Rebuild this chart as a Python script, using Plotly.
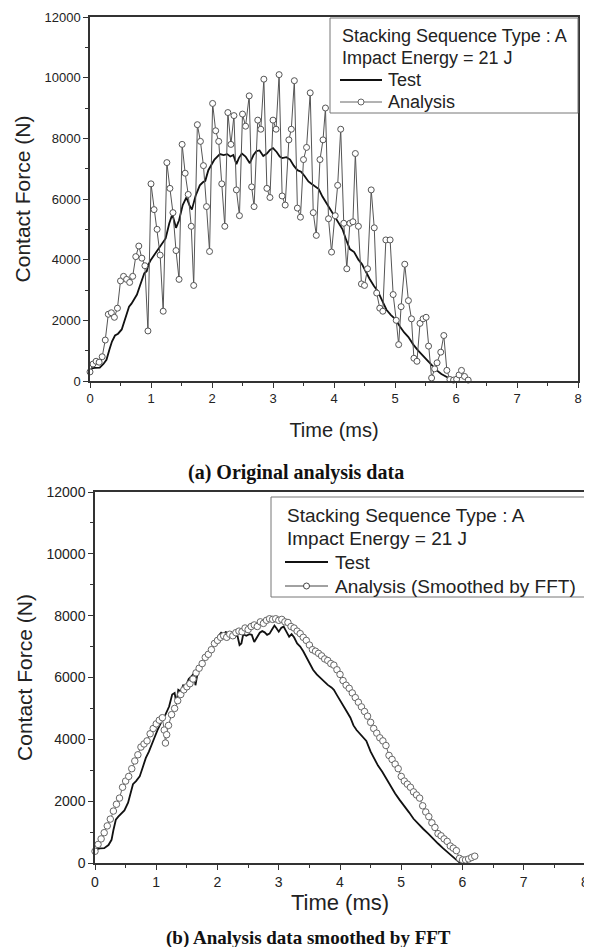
import plotly.graph_objects as go

# Page is 592x947; the HTML body adds an 8px margin, so the figure is drawn
# 8px in from the top-left and sized to fill the rest of the window.
PAGE_W, PAGE_H = 592, 947
OFF = 8
W, H = PAGE_W - OFF, PAGE_H - OFF

# ---------------- (a) Original analysis data ----------------
t_test_a = [0.00, 0.03, 0.08, 0.16, 0.22, 0.27, 0.32, 0.36, 0.41, 0.46,
            0.52, 0.56, 0.60, 0.64, 0.68, 0.73, 0.77, 0.82, 0.86, 0.89,
            0.93, 0.96, 1.00, 1.06, 1.13, 1.19, 1.24, 1.30, 1.35, 1.41,
            1.46, 1.52, 1.58, 1.63, 1.67, 1.73, 1.80, 1.85, 1.89, 1.94,
            1.98, 2.04, 2.08, 2.13, 2.19, 2.25, 2.30, 2.35, 2.40, 2.44,
            2.49, 2.55, 2.62, 2.68, 2.73, 2.78, 2.84, 2.90, 2.95, 3.00,
            3.06, 3.11, 3.15, 3.22, 3.28, 3.34, 3.40, 3.46, 3.52, 3.58,
            3.63, 3.69, 3.75, 3.81, 3.87, 3.94, 4.00, 4.07, 4.14, 4.20,
            4.26, 4.33, 4.40, 4.46, 4.52, 4.58, 4.65, 4.72, 4.79, 4.86,
            4.93, 5.00, 5.08, 5.15, 5.22, 5.30, 5.38, 5.45, 5.52, 5.60,
            5.68, 5.76, 5.85, 5.93, 5.97]
f_test_a = [250, 420, 430, 440, 560, 700, 1050, 1300, 1500, 1560,
            1700, 1950, 2250, 2450, 2550, 2700, 2850, 3150, 3400, 3550,
            3620, 3850, 4000, 4180, 4350, 4550, 4700, 5200, 5500, 5050,
            5300, 5800, 6050, 5800, 5650, 6100, 6450, 6550, 6600, 6950,
            7100, 7300, 7380, 7480, 7450, 7480, 7400, 7450, 7150, 7350,
            7500, 7400, 7180, 7450, 7580, 7600, 7420, 7500, 7620, 7680,
            7550, 7400, 7350, 7380, 7300, 7100, 6950, 6900, 6750, 6580,
            6500, 6400, 6330, 6080, 5880, 5650, 5480, 5200, 5000, 4650,
            4350, 4250, 4000, 3850, 3600, 3380, 3150, 2950, 2650, 2350,
            2180, 2050, 1800, 1600, 1450, 1200, 1000, 850, 680, 500,
            360, 230, 130, 30, 0]

t_ana_a = [0.00, 0.05, 0.10, 0.15, 0.20, 0.25, 0.30, 0.35, 0.40, 0.45,
           0.50, 0.55, 0.60, 0.65, 0.70, 0.75, 0.80, 0.85, 0.90, 0.95,
           1.00, 1.05, 1.10, 1.15, 1.20, 1.26, 1.31, 1.36, 1.41, 1.46,
           1.51, 1.56, 1.61, 1.66, 1.70, 1.76, 1.81, 1.86, 1.91, 1.96,
           2.01, 2.06, 2.11, 2.16, 2.21, 2.26, 2.31, 2.36, 2.40, 2.45,
           2.50, 2.55, 2.61, 2.65, 2.69, 2.75, 2.80, 2.85, 2.90, 2.95,
           3.00, 3.05, 3.10, 3.15, 3.20, 3.26, 3.30, 3.35, 3.40, 3.45,
           3.50, 3.55, 3.61, 3.66, 3.71, 3.77, 3.82, 3.86, 3.91, 3.96,
           4.02, 4.06, 4.11, 4.16, 4.21, 4.26, 4.31, 4.35, 4.40, 4.45,
           4.50, 4.55, 4.61, 4.66, 4.70, 4.75, 4.80, 4.85, 4.92, 4.97,
           5.02, 5.06, 5.10, 5.16, 5.22, 5.27, 5.31, 5.36, 5.41, 5.46,
           5.51, 5.55, 5.60, 5.65, 5.69, 5.75, 5.80, 5.85, 5.90, 5.96,
           6.01, 6.05, 6.09, 6.14, 6.20]
f_ana_a = [300, 560, 650, 620, 800, 1350, 2200, 2250, 2100, 2400,
           3300, 3450, 3350, 3250, 3450, 4100, 4450, 4050, 3800, 1650,
           6500, 5650, 5000, 4150, 2300, 7200, 6350, 5550, 4300, 3350,
           7800, 6850, 6150, 5100, 3150, 8450, 7900, 7100, 5750, 4270,
           9150, 8250, 7900, 6500, 5100, 8850, 7800, 8750, 6300, 5450,
           8800, 8400, 9400, 6400, 5750, 8600, 8300, 9950, 6350, 6050,
           8600, 8300, 10100, 6100, 5800, 7950, 8300, 9900, 5700, 5400,
           7300, 7700, 9500, 5550, 4800, 7300, 7950, 9000, 5350, 4250,
           5450, 6450, 8300, 5200, 3700, 5200, 5250, 7500, 5100, 3200,
           3150, 3700, 6300, 5050, 2900, 2400, 2300, 4650, 4650, 2850,
           2000, 1200, 2450, 3850, 2650, 2050, 750, 650, 1900, 2050,
           2100, 1150, 100, 400, 600, 950, 1500, 350, 50, 30,
           60, 200, 350, 150, 30]

# ---------------- (b) Analysis data smoothed by FFT ----------------
t_test_b = [0.00, 0.03, 0.08, 0.15, 0.22, 0.27, 0.30, 0.34, 0.38, 0.43,
            0.48, 0.54, 0.58, 0.62, 0.67, 0.73, 0.78, 0.83, 0.88, 0.94,
            0.98, 1.02, 1.06, 1.10, 1.15, 1.21, 1.26, 1.30, 1.33, 1.36,
            1.40, 1.44, 1.48, 1.53, 1.58, 1.62, 1.64, 1.68, 1.73, 1.77,
            1.82, 1.87, 1.92, 1.97, 2.02, 2.06, 2.10, 2.14, 2.17, 2.20,
            2.24, 2.28, 2.32, 2.36, 2.39, 2.42, 2.47, 2.52, 2.56, 2.60,
            2.64, 2.69, 2.73, 2.77, 2.81, 2.85, 2.89, 2.93, 2.96, 3.00,
            3.04, 3.08, 3.12, 3.17, 3.21, 3.25, 3.30, 3.35, 3.40, 3.45,
            3.50, 3.56, 3.62, 3.68, 3.74, 3.80, 3.86, 3.90, 3.95, 4.00,
            4.05, 4.11, 4.17, 4.22, 4.27, 4.33, 4.38, 4.43, 4.50, 4.56,
            4.62, 4.69, 4.76, 4.83, 4.90, 4.97, 5.05, 5.13, 5.20, 5.28,
            5.36, 5.44, 5.52, 5.60, 5.68, 5.76, 5.84, 5.90, 5.95, 6.00]
f_test_b = [350, 450, 470, 480, 580, 750, 1060, 1400, 1500, 1600,
            1700, 1950, 2300, 2550, 2650, 2800, 3100, 3400, 3600, 3870,
            4100, 4300, 4480, 4630, 4800, 5060, 5450, 5500, 5150, 5600,
            5550, 5750, 5700, 5950, 6050, 6150, 5750, 6200, 6400, 6550,
            6600, 6800, 7000, 7200, 7350, 7450, 7400, 7480, 7250, 7320,
            7400, 7300, 7400, 7050, 7100, 7400, 7350, 7400, 7380, 7150,
            7300, 7450, 7500, 7460, 7380, 7420, 7550, 7680, 7600, 7480,
            7600, 7650, 7500, 7320, 7400, 7300, 7100, 7000, 6850, 6650,
            6500, 6250, 6100, 5980, 5870, 5760, 5680, 5600, 5430, 5250,
            5100, 4900, 4700, 4450, 4300, 4180, 4070, 3950, 3600, 3350,
            3150, 2950, 2700, 2450, 2250, 2050, 1850, 1630, 1430, 1250,
            1100, 950, 780, 630, 480, 330, 200, 100, 20, 0]

t_ana_b = [0.00, 0.05, 0.10, 0.15, 0.20, 0.25, 0.30, 0.35, 0.40, 0.45,
           0.50, 0.55, 0.60, 0.65, 0.70, 0.75, 0.80, 0.85, 0.90, 0.95,
           1.00, 1.05, 1.10, 1.13, 1.15, 1.17, 1.20, 1.25, 1.30, 1.35,
           1.40, 1.45, 1.50, 1.55, 1.60, 1.65, 1.70, 1.75, 1.80, 1.85,
           1.90, 1.95, 2.00, 2.05, 2.10, 2.15, 2.20, 2.25, 2.30, 2.35,
           2.40, 2.45, 2.50, 2.55, 2.60, 2.65, 2.70, 2.75, 2.80, 2.85,
           2.90, 2.95, 3.00, 3.05, 3.10, 3.15, 3.20, 3.25, 3.30, 3.35,
           3.40, 3.45, 3.50, 3.55, 3.60, 3.65, 3.70, 3.75, 3.80, 3.85,
           3.90, 3.95, 4.00, 4.05, 4.10, 4.15, 4.20, 4.25, 4.30, 4.35,
           4.40, 4.45, 4.50, 4.55, 4.60, 4.65, 4.70, 4.75, 4.80, 4.85,
           4.90, 4.95, 5.00, 5.05, 5.10, 5.15, 5.20, 5.25, 5.30, 5.35,
           5.40, 5.45, 5.50, 5.55, 5.60, 5.65, 5.70, 5.75, 5.80, 5.85,
           5.90, 5.95, 6.00, 6.05, 6.10, 6.15, 6.20]
f_ana_b = [380, 600, 780, 980, 1200, 1420, 1680, 1900, 2100, 2450,
           2650, 2800, 3050, 3300, 3500, 3750, 3850, 3950, 4180, 4350,
           4500, 4620, 4700, 4300, 3880, 4150, 4450, 4800, 5000, 5250,
           5450, 5600, 5700, 5800, 5950, 6150, 6300, 6450, 6650, 6750,
           6900, 7100, 7200, 7300, 7350, 7300, 7400, 7350, 7450, 7500,
           7480, 7600, 7550, 7650, 7700, 7650, 7800, 7750, 7850, 7900,
           7880, 7900, 7850, 7880, 7800, 7780, 7650, 7600, 7500, 7420,
           7300, 7200, 7050, 6900, 6850, 6780, 6700, 6600, 6550, 6450,
           6400, 6250, 6100, 5900, 5750, 5650, 5500, 5350, 5200, 5050,
           4900, 4750, 4550, 4350, 4200, 4050, 3950, 3800, 3480, 3350,
           3200, 3050, 2800, 2650, 2550, 2450, 2300, 2200, 2100, 1850,
           1650, 1500, 1300, 1150, 950, 880, 780, 700, 550, 480,
           400, 150, 100, 100, 130, 180, 220]

for a, b in [(t_test_a, f_test_a), (t_ana_a, f_ana_a), (t_test_b, f_test_b), (t_ana_b, f_ana_b)]:
    assert len(a) == len(b), (len(a), len(b))

legend_lines = ["Stacking Sequence Type : A", "Impact Energy = 21 J"]
x_ticks = [0, 1, 2, 3, 4, 5, 6, 7, 8]
y_ticks = [0, 2000, 4000, 6000, 8000, 10000, 12000]


def px(x):
    """page x pixel -> paper fraction"""
    return (x - OFF) / W


def py(y):
    """page y pixel (from top) -> paper fraction"""
    return 1 - (y - OFF) / H


fig = go.Figure()

fig.add_trace(go.Scatter(x=t_test_a, y=f_test_a, mode="lines", name="Test",
                         line=dict(color="#111111", width=1.8), xaxis="x", yaxis="y",
                         cliponaxis=False))
fig.add_trace(go.Scatter(x=t_ana_a, y=f_ana_a, mode="lines+markers", name="Analysis",
                         line=dict(color="#555555", width=1),
                         marker=dict(symbol="circle", size=6, color="white",
                                     line=dict(color="#555555", width=1)),
                         xaxis="x", yaxis="y", cliponaxis=False))
fig.add_trace(go.Scatter(x=t_test_b, y=f_test_b, mode="lines", name="Test",
                         line=dict(color="#111111", width=1.8), xaxis="x2", yaxis="y2",
                         cliponaxis=False))
fig.add_trace(go.Scatter(x=t_ana_b, y=f_ana_b, mode="lines+markers",
                         name="Analysis (Smoothed by FFT)",
                         line=dict(color="#666666", width=1),
                         marker=dict(symbol="circle", size=6.5, color="white",
                                     line=dict(color="#666666", width=1)),
                         xaxis="x2", yaxis="y2", cliponaxis=False))

axis_common = dict(showgrid=False, zeroline=False, showline=True, linecolor="#333333",
                   linewidth=1.5, ticks="outside", ticklen=5, tickwidth=1.2,
                   tickcolor="#333333", automargin=False)

fig.update_layout(
    width=W, height=H, autosize=False,
    margin=dict(l=0, r=0, t=0, b=0, autoexpand=False),
    paper_bgcolor="white", plot_bgcolor="white",
    showlegend=False,
    font=dict(family="Arial", color="#222222"),
    xaxis=dict(domain=[px(90), px(578)], range=[0, 8], anchor="y", mirror=True,
               tickvals=x_ticks, tickformat="d", tickfont=dict(size=13),
               minor=dict(ticks="outside", ticklen=3, dtick=0.5, tickcolor="#333333"),
               title=dict(text="Time (ms)", font=dict(size=20), standoff=18),
               **axis_common),
    yaxis=dict(domain=[py(381), py(17)], range=[0, 12000], anchor="x", mirror=True,
               tickvals=y_ticks, tickformat="d", tickfont=dict(size=13),
               minor=dict(ticks="outside", ticklen=3, dtick=1000, tickcolor="#333333"),
               title=dict(text="Contact Force (N)", font=dict(size=21), standoff=8),
               **axis_common),
    xaxis2=dict(domain=[px(95), px(585)], range=[0, 8], anchor="y2", mirror=True,
                tickvals=x_ticks, tickformat="d", tickfont=dict(size=14),
                minor=dict(ticks="outside", ticklen=3, dtick=0.5, tickcolor="#333333"),
                title=dict(text="Time (ms)", font=dict(size=22), standoff=6),
                **axis_common),
    yaxis2=dict(domain=[py(863), py(492)], range=[0, 12000], anchor="x2", mirror=False,
                tickvals=y_ticks, tickformat="d", tickfont=dict(size=14),
                minor=dict(ticks="outside", ticklen=3, dtick=1000, tickcolor="#333333"),
                title=dict(text="Contact Force (N)", font=dict(size=21), standoff=8),
                **axis_common),
)

shapes = []
annotations = []


def add_legend(box, text_x, rows_y, sample_x0, sample_x1, item_x, fsize, items):
    x0, y0, x1, y1 = box
    shapes.append(dict(type="rect", xref="paper", yref="paper",
                       x0=px(x0), x1=px(x1), y0=py(y1), y1=py(y0),
                       line=dict(color="#777777", width=1), fillcolor="white", layer="above"))
    for txt, yy in zip(legend_lines, rows_y[:2]):
        annotations.append(dict(text=txt, xref="paper", yref="paper", x=px(text_x), y=py(yy),
                                xanchor="left", yanchor="middle", showarrow=False,
                                font=dict(size=fsize, color="#222222", family="Arial")))
    for (label, color, marker), yy in zip(items, rows_y[2:]):
        shapes.append(dict(type="line", xref="paper", yref="paper",
                           x0=px(sample_x0), x1=px(sample_x1), y0=py(yy), y1=py(yy),
                           line=dict(color=color, width=1.8 if not marker else 1), layer="above"))
        if marker:
            cx = (sample_x0 + sample_x1) / 2
            shapes.append(dict(type="circle", xref="paper", yref="paper",
                               x0=px(cx - 3), x1=px(cx + 3), y0=py(yy + 3), y1=py(yy - 3),
                               line=dict(color=color, width=1), fillcolor="white", layer="above"))
        annotations.append(dict(text=label, xref="paper", yref="paper", x=px(item_x), y=py(yy),
                                xanchor="left", yanchor="middle", showarrow=False,
                                font=dict(size=fsize, color="#222222", family="Arial")))


add_legend((330, 18, 578, 113), 340, [36, 58, 80, 102], 340, 382, 386, 18,
           [("Test", "#111111", False), ("Analysis", "#666666", True)])
add_legend((271, 497, 587, 597), 285, [515, 538, 562, 586], 285, 328, 333, 19,
           [("Test", "#111111", False), ("Analysis (Smoothed by FFT)", "#444444", True)])

annotations.append(dict(text="<b>(a) Original analysis data</b>", xref="paper", yref="paper",
                        x=px(296), y=py(472), xanchor="center", yanchor="middle", showarrow=False,
                        font=dict(size=20, family="Liberation Serif, Times New Roman, serif",
                                  color="#111111")))
annotations.append(dict(text="<b>(b) Analysis data smoothed by FFT</b>", xref="paper", yref="paper",
                        x=px(308), y=py(938), xanchor="center", yanchor="middle", showarrow=False,
                        font=dict(size=19, family="Liberation Serif, Times New Roman, serif",
                                  color="#111111")))

fig.update_layout(shapes=shapes, annotations=annotations)

fig.write_html("out.html")
